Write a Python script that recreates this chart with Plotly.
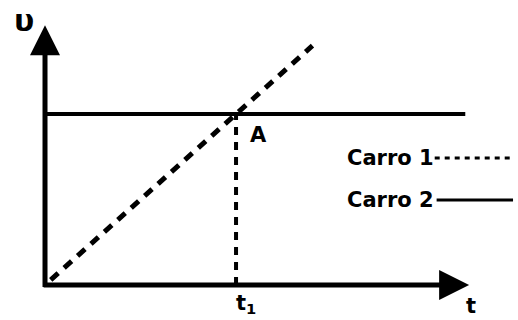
import plotly.graph_objects as go

# Schematic values (t1 = 1, speed of Carro 2 = 1)
t1 = 1.0
v_carro2 = 1.0
carro1_t = [0.03, 1.4]
carro1_v = [0.03, 1.4]
carro2_t = [0.0, 2.2]
carro2_v = [v_carro2, v_carro2]
t_axis_end = 2.22
v_axis_end = 1.52
legend_names = ["Carro 1", "Carro 2"]
legend_v = [0.743, 0.497]

black = "black"
font = dict(family="DejaVu Sans, sans-serif", size=21, color=black)

fig = go.Figure()

# Carro 1 (dashed diagonal) and Carro 2 (solid horizontal)
fig.add_trace(go.Scatter(x=carro1_t, y=carro1_v, mode="lines",
                         line=dict(color=black, width=5, dash="10px,8px")))
fig.add_trace(go.Scatter(x=carro2_t, y=carro2_v, mode="lines",
                         line=dict(color=black, width=4)))
# dashed drop line at t1
fig.add_trace(go.Scatter(x=[t1, t1], y=[0, v_carro2], mode="lines",
                         line=dict(color=black, width=4, dash="8px,7px")))

# legend rows: text then line sample
fig.add_trace(go.Scatter(x=[2.04, 2.45], y=[legend_v[0]] * 2, mode="lines",
                         line=dict(color=black, width=3, dash="5px,5px")))
fig.add_trace(go.Scatter(x=[2.05, 2.45], y=[legend_v[1]] * 2, mode="lines",
                         line=dict(color=black, width=3)))

annots = []
# axes with arrows
annots.append(dict(x=0, y=v_axis_end, ax=0, ay=-0.02, xref="x", yref="y",
                   axref="x", ayref="y", text="", showarrow=True,
                   arrowhead=2, arrowwidth=5, arrowsize=1.2, arrowcolor=black))
annots.append(dict(x=t_axis_end, y=0, ax=-0.015, ay=0, xref="x", yref="y",
                   axref="x", ayref="y", text="", showarrow=True,
                   arrowhead=2, arrowwidth=5, arrowsize=1.2, arrowcolor=black))

annots.append(dict(x=-0.11, y=1.55, text="<b>υ</b>", showarrow=False,
                   font=dict(family="DejaVu Sans", size=30, color=black)))
annots.append(dict(x=2.23, y=-0.12, text="<b>t</b>", showarrow=False, font=font))
annots.append(dict(x=1.05, y=-0.11, text="<b>t<sub>1</sub></b>", showarrow=False, font=font))
annots.append(dict(x=1.12, y=0.88, text="<b>A</b>", showarrow=False, font=font))
for name, v in zip(legend_names, legend_v):
    annots.append(dict(x=1.57, y=v, text="<b>" + name + "</b>", showarrow=False,
                       xanchor="left", font=font))

fig.update_layout(
    width=518, height=320,
    margin=dict(l=0, r=0, t=0, b=0),
    paper_bgcolor="white", plot_bgcolor="white",
    showlegend=False,
    annotations=annots,
    xaxis=dict(range=[-0.2356, 2.476], visible=False, fixedrange=True),
    yaxis=dict(range=[-0.2047, 1.667], visible=False, fixedrange=True),
)

fig.write_html("out.html", config={"displayModeBar": False},
               post_script="document.body.style.margin='0';")
